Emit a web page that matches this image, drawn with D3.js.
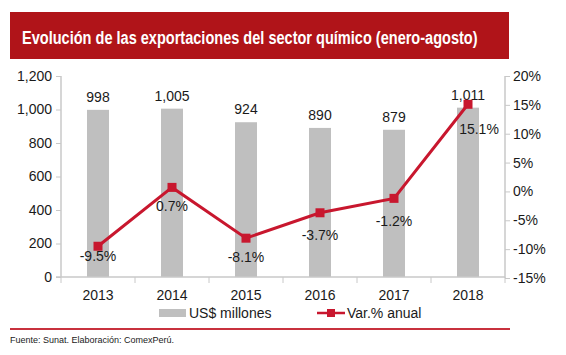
<!DOCTYPE html>
<html><head><meta charset="utf-8">
<script src="https://cdn.jsdelivr.net/npm/d3@7"></script>
<style>body{margin:0;background:#fff}svg{display:block;font-family:"Liberation Sans",Arial,sans-serif}</style>
</head><body>
<svg id="c" width="566" height="355"></svg>
<script>
const years = ["2013","2014","2015","2016","2017","2018"];
const exportsUSD = [998, 1005, 924, 890, 879, 1011];
const varPct = [-9.5, 0.7, -8.1, -3.7, -1.2, 15.1];
const leftTicks = [0, 200, 400, 600, 800, 1000, 1200];
const rightTicks = [-15, -10, -5, 0, 5, 10, 15, 20];
const title = "Evolución de las exportaciones del sector químico (enero-agosto)";
const source = "Fuente: Sunat. Elaboración: ComexPerú.";
const legendLabels = ["US$ millones", "Var.% anual"];

const svg = d3.select("#c");
const red = "#c8172e", grey = "#bfbfbf", axisC = "#c8c8c8";
const L = 61, R = 505, T = 76, B = 277;
const FS = 14;

// title
svg.append("rect").attr("x",10).attr("y",12).attr("width",499).attr("height",47).attr("fill","#b01419");
const tt = svg.append("text").attr("x",0).attr("y",0).attr("fill","#fff").attr("font-weight","bold")
  .attr("font-size",17.5).text(title);
const natW = tt.node().getComputedTextLength();
const sx = Math.min(1, 456 / natW);
tt.attr("transform",`translate(22,44) scale(${sx},1)`);

const x = d3.scaleBand().domain(years).range([L,R]).paddingInner(0).paddingOuter(0);
const yL = d3.scaleLinear().domain([0,1200]).range([B,T]);
const yR = d3.scaleLinear().domain([-15,20]).range([B+1,T]);

// bars
const bw = 22;
svg.selectAll("rect.bar").data(years).join("rect").attr("class","bar")
  .attr("x",d=>x(d)+x.bandwidth()/2-bw/2).attr("width",bw)
  .attr("y",(d,i)=>yL(exportsUSD[i])).attr("height",(d,i)=>B-yL(exportsUSD[i]))
  .attr("fill",grey);

// axes
const fmt = d3.format(",");
const pctFmt = d => (d3.format(".1f")(d)).replace("\u2212","-") + "%";
const ga = svg.append("g").attr("transform",`translate(${L},0)`)
  .call(d3.axisLeft(yL).tickValues(leftTicks).tickFormat(fmt).tickSize(5).tickPadding(4));
const gr = svg.append("g").attr("transform",`translate(${R},0)`)
  .call(d3.axisRight(yR).tickValues(rightTicks).tickFormat(d=>String(d)+"%").tickSize(5).tickPadding(3));
[ga,gr].forEach(g=>{
  g.select(".domain").attr("stroke",axisC).attr("d", g===ga?`M0,${T}V${B}`:`M0,${T}V${B+1}`).attr("stroke-width",1.5);
  g.selectAll(".tick line").attr("stroke",axisC);
  g.selectAll(".tick text").attr("font-size",FS).attr("fill","#1a1a1a").attr("font-family","Liberation Sans, Arial, sans-serif");
});
// x axis
const gx = svg.append("g").attr("transform",`translate(0,${B})`);
gx.append("line").attr("x1",L-5).attr("x2",R).attr("stroke",axisC).attr("stroke-width",1.5);
const bounds = years.map(d=>x(d)).concat([R]);
gx.selectAll("line.t").data(bounds).join("line").attr("class","t")
  .attr("x1",d=>d).attr("x2",d=>d).attr("y1",0).attr("y2",6).attr("stroke",axisC);
gx.selectAll("text").data(years).join("text")
  .attr("x",d=>x(d)+x.bandwidth()/2).attr("y",23).attr("text-anchor","middle")
  .attr("font-size",FS).attr("fill","#1a1a1a").text(d=>d);

// bar labels
svg.selectAll("text.bl").data(years).join("text").attr("class","bl")
  .attr("x",d=>x(d)+x.bandwidth()/2).attr("y",(d,i)=>yL(exportsUSD[i])-8)
  .attr("text-anchor","middle").attr("font-size",FS).attr("fill","#1a1a1a")
  .text((d,i)=>fmt(exportsUSD[i]));

// line
const cx = d=>x(d)+x.bandwidth()/2;
const line = d3.line().x((d,i)=>cx(years[i])).y(d=>yR(d));
svg.append("path").datum(varPct).attr("d",line).attr("fill","none").attr("stroke",red).attr("stroke-width",3);
svg.selectAll("rect.m").data(varPct).join("rect").attr("class","m")
  .attr("x",(d,i)=>cx(years[i])-4.5).attr("y",d=>yR(d)-4.5).attr("width",9).attr("height",9).attr("fill",red);

// pct labels
const dxs = [0,0,0,0,0,11], dys = [15,24,24,27,28,30];
svg.selectAll("text.pl").data(varPct).join("text").attr("class","pl")
  .attr("x",(d,i)=>cx(years[i])+dxs[i]).attr("y",(d,i)=>yR(d)+dys[i])
  .attr("text-anchor","middle").attr("font-size",FS).attr("fill","#1a1a1a")
  .text(d=>pctFmt(d));

// legend
svg.append("rect").attr("x",159).attr("y",309).attr("width",27).attr("height",8).attr("fill",grey);
svg.append("text").attr("x",189).attr("y",318).attr("font-size",FS).attr("fill","#1a1a1a").text(legendLabels[0]);
svg.append("line").attr("x1",317).attr("x2",345).attr("y1",313).attr("y2",313).attr("stroke",red).attr("stroke-width",2.5);
svg.append("rect").attr("x",327).attr("y",309).attr("width",8).attr("height",8).attr("fill",red);
svg.append("text").attr("x",347).attr("y",318).attr("font-size",FS).attr("fill","#1a1a1a").text(legendLabels[1]);

// bottom rule + source
svg.append("line").attr("x1",10).attr("x2",510).attr("y1",329).attr("y2",329).attr("stroke","#c8313e").attr("stroke-width",2);
svg.append("text").attr("x",10).attr("y",343).attr("font-size",9).attr("fill","#1a1a1a").text(source);
</script>
</body></html>
